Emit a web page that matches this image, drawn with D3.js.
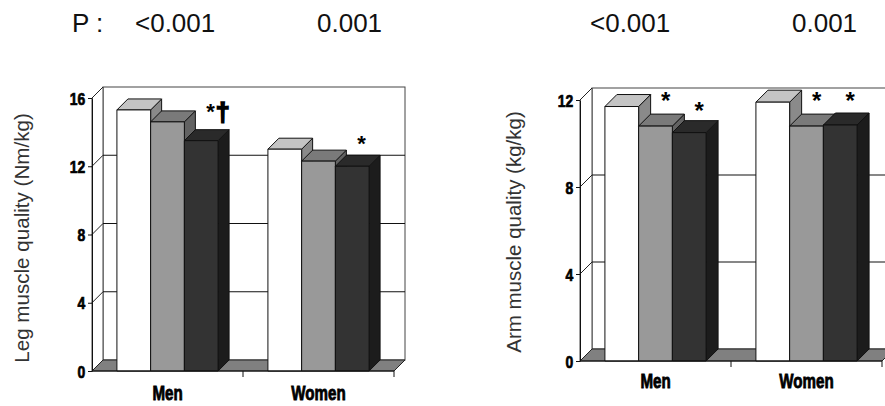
<!DOCTYPE html>
<html><head><meta charset="utf-8">
<script src="https://cdn.jsdelivr.net/npm/d3@7"></script>
<style>html,body{margin:0;padding:0;background:#fff;} svg{display:block;}</style>
</head><body><svg id="c" width="885" height="406"></svg>
<script>
// ---------- DATA ----------
const categories = ["Men", "Women"];
const seriesNames = ["Group 1", "Group 2", "Group 3"];
const legValues = [[15.3, 14.6, 13.5], [13.0, 12.3, 12.0]];
const armValues = [[11.7, 10.8, 10.5], [11.9, 10.8, 10.85]];
const legTicks = [0, 4, 8, 12, 16];
const armTicks = [0, 4, 8, 12];
const legPValues = ["<0.001", "0.001"];
const armPValues = ["<0.001", "0.001"];
const legMarks = [{group: 0, series: 2, label: "*", extra: "\u2020", level: 14.77}, {group: 1, series: 2, label: "*", level: 12.9}];
const armMarks = [{group: 0, series: 1, label: "*", level: 11.59}, {group: 0, series: 2, label: "*", level: 11.13},
                  {group: 1, series: 1, label: "*", level: 11.59}, {group: 1, series: 2, label: "*", level: 11.59}];
const legTitle = "Leg muscle quality (Nm/kg)";
const armTitle = "Arm muscle quality (kg/kg)";

// ---------- STYLE ----------
const FONT = "'Liberation Sans', Arial, Helvetica, sans-serif";
const frontColors = ["#ffffff", "#999999", "#333333"];
const topColors = ["#c4c4c4", "#7a7a7a", "#2a2a2a"];
const sideColors = ["#8a8a8a", "#626262", "#1c1c1c"];

const svg = d3.select("#c");
svg.append("rect").attr("width", 885).attr("height", 406).attr("fill", "#fff");

function drawChart(cfg) {
  const g = svg.append("g");
  const L = cfg.left, R = cfg.left + cfg.width, B = cfg.bottom, T = cfg.top, d = cfg.depth;
  const x = d3.scaleBand().domain(categories).range([L, R]).paddingInner(0.33).paddingOuter(0.165);
  const xs = d3.scaleBand().domain(d3.range(seriesNames.length)).range([0, x.bandwidth()]);
  const y = d3.scaleLinear().domain([0, cfg.max]).range([B, T]);

  // back wall
  g.append("rect").attr("x", L + d).attr("y", y(cfg.max) - d).attr("width", cfg.width).attr("height", B - T)
    .attr("fill", "#fff").attr("stroke", "#444").attr("stroke-width", 1);
  // side wall
  g.append("path").attr("d", `M${L},${B}L${L},${y(cfg.max)}L${L + d},${y(cfg.max) - d}L${L + d},${B - d}Z`)
    .attr("fill", "#fff").attr("stroke", "#444").attr("stroke-width", 1);
  // gridlines
  cfg.ticks.filter(t => t > 0).forEach(t => {
    g.append("line").attr("x1", L).attr("x2", L + d).attr("y1", y(t)).attr("y2", y(t) - d)
      .attr("stroke", "#222").attr("stroke-width", 1);
    if (t < cfg.max) {
      g.append("line").attr("x1", L + d).attr("x2", R + d).attr("y1", y(t) - d).attr("y2", y(t) - d)
        .attr("stroke", "#111").attr("stroke-width", 1.2);
    }
  });
  // floor
  g.append("path").attr("d", `M${L},${B}L${L + d},${B - d}L${R + d},${B - d}L${R},${B}Z`)
    .attr("fill", "#808080").attr("stroke", "#222").attr("stroke-width", 1);

  // bars
  cfg.values.forEach((vals, i) => {
    vals.forEach((v, j) => {
      const x0 = x(categories[i]) + xs(j), w = xs.bandwidth(), yv = y(v);
      const bg = g.append("g").attr("stroke", "#111").attr("stroke-width", 1).attr("stroke-linejoin", "round");
      bg.append("path").attr("d", `M${x0 + w},${yv}L${x0 + w + d},${yv - d}L${x0 + w + d},${B - d}L${x0 + w},${B}Z`)
        .attr("fill", sideColors[j]);
      bg.append("path").attr("d", `M${x0},${yv}L${x0 + d},${yv - d}L${x0 + w + d},${yv - d}L${x0 + w},${yv}Z`)
        .attr("fill", topColors[j]);
      bg.append("rect").attr("x", x0).attr("y", yv).attr("width", w).attr("height", B - yv)
        .attr("fill", frontColors[j]);
    });
  });

  // y axis
  const ya = g.append("g").attr("transform", `translate(${L},0)`)
    .call(d3.axisLeft(y).tickValues(cfg.ticks).tickSize(4).tickSizeOuter(0).tickPadding(3).tickFormat(d3.format("d")));
  ya.select(".domain").attr("stroke", "#111");
  ya.selectAll(".tick line").attr("stroke", "#111");
  ya.selectAll(".tick text").attr("font-family", FONT).attr("font-weight", "bold").attr("font-size", 17)
    .attr("fill", "#000").attr("stroke", "#000").attr("stroke-width", 0.7).attr("dy", "0.36em")
    .attr("transform", "translate(-1,0) scale(0.82,1)");

  // bottom axis line + ticks
  g.append("line").attr("x1", L).attr("x2", R).attr("y1", B).attr("y2", B).attr("stroke", "#111");
  [1, 2].forEach(k => {
    const xt = L + k * x.step();
    g.append("line").attr("x1", xt).attr("x2", xt).attr("y1", B).attr("y2", B + 6).attr("stroke", "#111");
  });
  // category labels
  categories.forEach(c => {
    g.append("text").attr("transform", `translate(${x(c) + x.bandwidth() / 2},${B + cfg.labelOffset}) scale(0.72,1)`)
      .attr("text-anchor", "middle").attr("font-family", FONT).attr("font-weight", "bold")
      .attr("font-size", 21).attr("fill", "#000").attr("stroke", "#000").attr("stroke-width", 0.9).text(c);
  });

  // significance marks
  cfg.marks.forEach(m => {
    const cx = x(categories[m.group]) + xs(m.series) + xs.bandwidth() / 2 + d * 0.85;
    const t = g.append("text").attr("x", cx - cfg.markSize * 0.2).attr("y", y(m.level))
      .attr("font-family", FONT).attr("font-weight", "bold").attr("font-size", cfg.markSize)
      .attr("fill", "#000").text(m.label);
    if (m.extra) {
      t.append("tspan").attr("dx", 1).attr("dy", 2).attr("font-size", cfg.markSize + 3)
        .attr("stroke", "#000").attr("stroke-width", 1.6).text(m.extra);
    }
  });

  // y title
  g.append("text").attr("transform", `translate(${cfg.titleX},${cfg.titleY}) rotate(-90)`)
    .attr("text-anchor", "middle").attr("font-family", FONT).attr("font-size", cfg.titleSize)
    .attr("fill", "#333").text(cfg.title);

  // P values
  if (cfg.pLabel) {
    svg.append("text").attr("x", cfg.pLabelX).attr("y", 32).attr("font-family", FONT).attr("font-size", 26)
      .attr("fill", "#111").text("P :");
  }
  cfg.pValues.forEach((p, i) => {
    svg.append("text").attr("x", cfg.pX[i]).attr("y", 32).attr("font-family", FONT).attr("font-size", 26)
      .attr("fill", "#111").text(p);
  });
}

drawChart({
  left: 92, width: 302, bottom: 371, top: 98, depth: 11, max: 16,
  values: legValues, ticks: legTicks, marks: legMarks, markSize: 22,
  title: legTitle, titleX: 29, titleY: 238, titleSize: 20.6, labelOffset: 29,
  pLabel: true, pLabelX: 72, pValues: legPValues, pX: [135, 317]
});
drawChart({
  left: 580, width: 302, bottom: 361, top: 100, depth: 12, max: 12,
  values: armValues, ticks: armTicks, marks: armMarks, markSize: 24,
  title: armTitle, titleX: 521, titleY: 232, titleSize: 20.5, labelOffset: 27,
  pLabel: false, pValues: armPValues, pX: [590, 792]
});
</script>
</body></html>
